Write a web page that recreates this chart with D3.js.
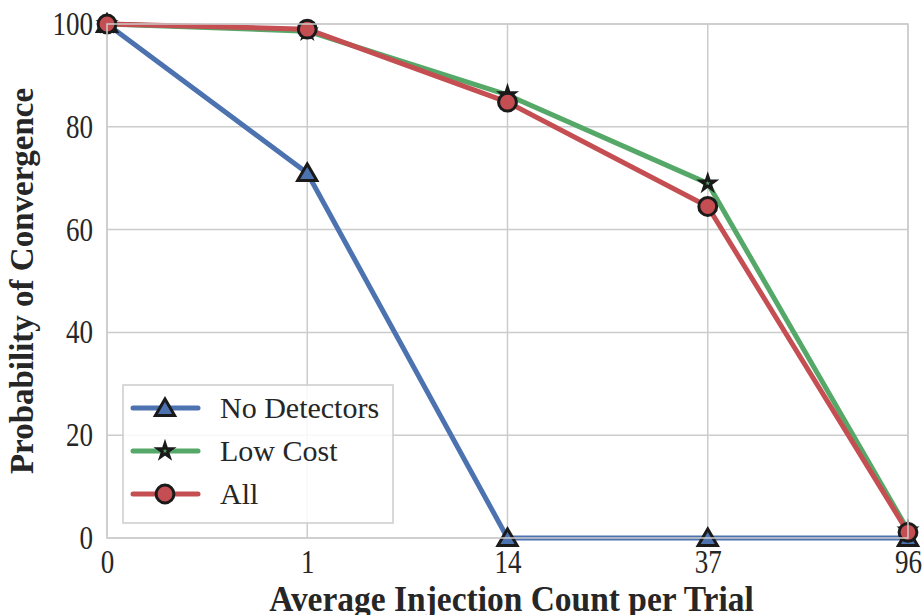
<!DOCTYPE html>
<html>
<head>
<meta charset="utf-8">
<script src="https://cdn.jsdelivr.net/npm/d3@7"></script>
<style>
  body { margin: 0; background: #fff; }
  text { font-family: "Liberation Serif", "Times New Roman", serif; fill: #262626; }
</style>
</head>
<body>
<div id="chart"></div>
<script>
// Data
const injectionCounts = ["0", "1", "14", "37", "96"];
const yTicks = [0, 20, 40, 60, 80, 100];
const noDetectors = [100, 71, 0, 0, 0];
const lowCost = [100, 98.6, 86.2, 69, 1.5];
const allDetectors = [100, 99, 84.8, 64.5, 1.1];

const seriesNames = ["No Detectors", "Low Cost", "All"];
const seriesColors = ["#4C72B0", "#55A868", "#C44E52"];
const seriesMarkers = ["triangle", "star", "circle"];
const seriesValues = [noDetectors, lowCost, allDetectors];

const W = 923, H = 615;
const plot = { left: 107, right: 908, top: 24, bottom: 538 };
const tickSquish = 0.82;

const svg = d3.select("#chart").append("svg")
  .attr("width", W)
  .attr("height", H);

const x = d3.scalePoint()
  .domain(injectionCounts)
  .range([plot.left, plot.right]);

const y = d3.scaleLinear()
  .domain([0, 100])
  .range([plot.bottom, plot.top]);

// Grid lines
svg.append("g")
  .selectAll("line.hgrid")
  .data(yTicks)
  .enter().append("line")
  .attr("x1", plot.left).attr("x2", plot.right)
  .attr("y1", d => y(d)).attr("y2", d => y(d))
  .attr("stroke", "#cccccc").attr("stroke-width", 1.5);

svg.append("g")
  .selectAll("line.vgrid")
  .data(injectionCounts)
  .enter().append("line")
  .attr("x1", d => x(d)).attr("x2", d => x(d))
  .attr("y1", plot.top).attr("y2", plot.bottom)
  .attr("stroke", "#cccccc").attr("stroke-width", 1.5);

// Axes (labels only, seaborn style has no tick marks)
const xAxis = svg.append("g")
  .attr("transform", `translate(0,${plot.bottom})`)
  .call(d3.axisBottom(x).tickSize(0).tickPadding(12));
xAxis.select(".domain").remove();
xAxis.selectAll("text")
  .attr("font-size", 33)
  .attr("font-family", "Liberation Serif")
  .attr("fill", "#262626")
  .attr("transform", `scale(${tickSquish},1)`);

const yAxis = svg.append("g")
  .attr("transform", `translate(${plot.left},0)`)
  .call(d3.axisLeft(y).tickValues(yTicks).tickSize(0));
yAxis.select(".domain").remove();
yAxis.selectAll("text")
  .attr("font-size", 33)
  .attr("font-family", "Liberation Serif")
  .attr("fill", "#262626")
  .attr("x", -14 / tickSquish)
  .attr("transform", `scale(${tickSquish},1)`);

// Lines + markers
const line = d3.line()
  .x((d, i) => x(injectionCounts[i]))
  .y(d => y(d));

const symbolFor = {
  triangle: d3.symbol().type(d3.symbolTriangle).size(160),
  star: d3.symbol().type(d3.symbolStar).size(60),
  circle: d3.symbol().type(d3.symbolCircle).size(250)
};

seriesValues.forEach((vals, s) => {
  const g = svg.append("g");
  g.append("path")
    .datum(vals)
    .attr("fill", "none")
    .attr("stroke", seriesColors[s])
    .attr("stroke-width", 5)
    .attr("stroke-linejoin", "round")
    .attr("d", line);
  g.selectAll("path.marker")
    .data(vals)
    .enter().append("path")
    .attr("class", "marker")
    .attr("transform", (d, i) => `translate(${x(injectionCounts[i])},${y(d) + (seriesMarkers[s] === "triangle" ? 2 : 0)})`)
    .attr("d", symbolFor[seriesMarkers[s]])
    .attr("fill", seriesColors[s])
    .attr("stroke", "#1a1a1a")
    .attr("stroke-width", 3);
});

// Frame on top of lines
svg.append("rect")
  .attr("x", plot.left).attr("y", plot.top)
  .attr("width", plot.right - plot.left).attr("height", plot.bottom - plot.top)
  .attr("fill", "none").attr("stroke", "#cccccc").attr("stroke-width", 1.5);

// Axis titles
svg.append("text")
  .attr("transform", `translate(${(plot.left + plot.right) / 2 + 4},${611}) scale(0.93,1)`)
  .attr("text-anchor", "middle")
  .attr("font-weight", "bold")
  .attr("font-size", 36)
  .text("Average Injection Count per Trial");

svg.append("text")
  .attr("transform", `translate(33,${(plot.top + plot.bottom) / 2}) rotate(-90)`)
  .attr("text-anchor", "middle")
  .attr("font-weight", "bold")
  .attr("font-size", 33)
  .text("Probability of Convergence");

// Legend
const legend = svg.append("g");
legend.append("rect")
  .attr("x", 123).attr("y", 385)
  .attr("width", 270).attr("height", 138)
  .attr("fill", "#ffffff").attr("fill-opacity", 0.85)
  .attr("stroke", "#cccccc").attr("stroke-width", 1.5);

seriesNames.forEach((name, s) => {
  const ly = 408 + s * 43;
  legend.append("line")
    .attr("x1", 133).attr("x2", 198)
    .attr("y1", ly).attr("y2", ly)
    .attr("stroke", seriesColors[s])
    .attr("stroke-width", 5)
    .attr("stroke-linecap", "round");
  legend.append("path")
    .attr("transform", `translate(165,${ly + (seriesMarkers[s] === "triangle" ? 2 : 0)})`)
    .attr("d", symbolFor[seriesMarkers[s]])
    .attr("fill", seriesColors[s])
    .attr("stroke", "#1a1a1a")
    .attr("stroke-width", 3);
  legend.append("text")
    .attr("x", 220).attr("y", ly + 10)
    .attr("font-size", 30)
    .text(name);
});
</script>
</body>
</html>
